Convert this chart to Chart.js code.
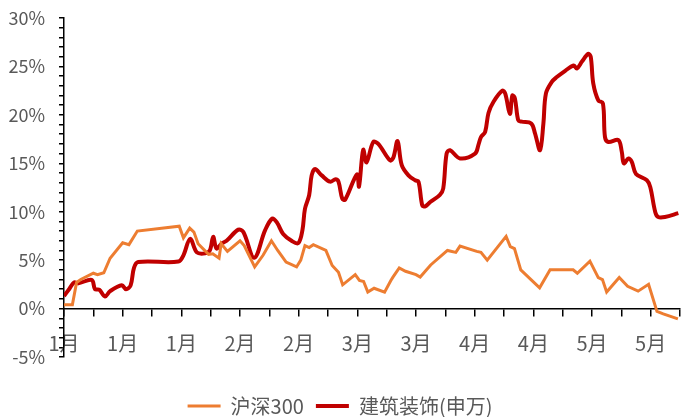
<!DOCTYPE html>
<html>
<head>
<meta charset="utf-8">
<script src="https://cdn.jsdelivr.net/npm/chart.js@4/dist/chart.umd.min.js"></script>
<style>
  html, body { margin: 0; padding: 0; background: #fff; }
</style>
</head>
<body>
<canvas id="chart" width="681" height="417"></canvas>
<script>
// x = days since 3 Jan, y = cumulative return in %
const hsDays = [0, 2, 3, 4, 7, 8, 9.5, 11, 14, 15.5, 17.5, 27.5, 28.5, 30, 31, 32, 34.5, 35.5, 37, 37.5, 39, 42, 43, 45.5, 47.5, 49.5, 51, 53, 55.5, 56.5, 57.5, 58.5, 59.5, 62.5, 64, 65.5, 66.5, 69.5, 70.5, 71.5, 72.5, 74, 76.5, 78, 78.5, 80, 81.5, 84, 85, 86, 87.5, 91.5, 93.5, 94.5, 98.5, 99.5, 101, 105.5, 106.5, 107.5, 109, 113.5, 116, 121.5, 122.5, 125.5, 127.5, 128.5, 129.5, 132.5, 134.5, 137, 139.5, 141.5, 143, 146.5];
const hsValues = [0.4, 0.4, 2.7, 3.0, 3.65, 3.5, 3.7, 5.2, 6.8, 6.6, 8.0, 8.5, 7.3, 8.3, 7.9, 6.7, 5.6, 5.65, 5.2, 6.7, 5.9, 7.0, 6.5, 4.3, 5.5, 7.0, 6.0, 4.8, 4.3, 5.0, 6.5, 6.3, 6.6, 6.0, 4.45, 3.75, 2.45, 3.5, 2.9, 2.8, 1.7, 2.1, 1.7, 2.9, 3.25, 4.2, 3.85, 3.5, 3.25, 3.75, 4.5, 6.0, 5.8, 6.45, 5.9, 5.8, 5.0, 7.45, 6.4, 6.2, 4.0, 2.15, 4.0, 4.0, 3.65, 4.9, 3.2, 3.0, 1.7, 3.2, 2.3, 1.8, 2.5, -0.3, -0.55, -1.07];

const jzDays = [0, 1.3, 2.4, 3.4, 6.6, 7.4, 8.4, 9.8, 11, 13.8, 14.8, 15.9, 16.7, 17.7, 27.3, 28.5, 30.1, 31.7, 33.7, 34.8, 35.6, 36.4, 37.6, 38.8, 41.6, 42.8, 45.4, 48, 49.7, 50.8, 52.3, 54.3, 55.9, 56.9, 57.5, 58.5, 59.1, 59.9, 61.5, 63.5, 64.8, 65.5, 66.4, 67.1, 69.9, 70.4, 71.4, 72.2, 73.8, 75, 77.8, 78.6, 79.6, 80.6, 82.2, 83.8, 84.6, 85.5, 86.2, 87.4, 89.7, 90.5, 91.3, 92.1, 94.5, 98.1, 98.9, 99.5, 100.5, 101.3, 102.5, 104.6, 105.3, 106.4, 107, 107.6, 108.4, 109.2, 111.5, 112.4, 113.6, 114.4, 115, 116.4, 117.6, 119.6, 121.6, 122.4, 123.6, 125.1, 125.7, 126.3, 127.5, 128.6, 129.1, 129.9, 132.3, 133.1, 133.6, 134.7, 135.5, 136.5, 139.1, 139.9, 141.1, 141.8, 143.4, 146.6];
const jzValues = [1.3, 2.05, 2.7, 2.6, 2.95, 2.0, 1.95, 1.25, 1.8, 2.4, 2.0, 2.4, 4.2, 4.8, 4.85, 5.5, 7.2, 5.8, 5.7, 6.0, 7.4, 6.2, 6.7, 7.0, 8.15, 7.9, 5.25, 8.1, 9.3, 8.9, 7.7, 7.0, 6.75, 8.1, 10.3, 11.7, 13.75, 14.4, 13.75, 13.1, 13.35, 13.1, 11.35, 11.25, 13.85, 12.6, 16.4, 15.1, 17.2, 17.0, 15.3, 15.6, 17.3, 14.8, 13.75, 13.25, 13.1, 10.65, 10.55, 11.0, 11.75, 12.4, 16.0, 16.35, 15.5, 16.0, 16.9, 17.7, 18.25, 20.2, 21.35, 22.5, 22.2, 20.1, 22.0, 21.7, 19.45, 19.3, 19.1, 18.1, 16.35, 19.1, 22.2, 23.4, 23.9, 24.55, 25.1, 24.8, 25.5, 26.3, 26.0, 23.25, 21.5, 21.2, 17.7, 17.2, 17.4, 16.2, 15.0, 15.5, 15.15, 13.9, 13.25, 12.55, 9.95, 9.45, 9.45, 9.85];

// one tick per week, label every other week
const weekLabels = ["1月", "", "1月", "", "1月", "", "2月", "", "2月", "", "3月", "", "3月", "", "4月", "", "4月", "", "5月", "", "5月", ""];

const FONT = "'Noto Sans CJK SC', 'Open Sans', sans-serif";
const GREY = "#595959";

const toPoints = (xs, ys) => xs.map((x, i) => ({ x: x, y: ys[i] }));

new Chart(document.getElementById("chart"), {
  type: "line",
  data: {
    datasets: [
      {
        label: "沪深300",
        data: toPoints(hsDays, hsValues),
        borderColor: "#ED7D31",
        backgroundColor: "#ED7D31",
        borderWidth: 3,
        pointRadius: 0,
        tension: 0,
      },
      {
        label: "建筑装饰(申万)",
        data: toPoints(jzDays, jzValues),
        borderColor: "#C00000",
        backgroundColor: "#C00000",
        borderWidth: 4,
        pointRadius: 0,
        tension: 0.35,
      },
    ],
  },
  options: {
    responsive: false,
    animation: false,
    layout: { padding: { top: 18, right: 1, bottom: -9, left: 0 } },
    scales: {
      x: {
        type: "linear",
        position: { y: 0 },
        min: 0,
        max: 147,
        afterFit: (scale) => { scale.paddingRight = 0; scale.paddingLeft = 0; },
        border: { color: "#000", width: 1.5 },
        grid: { drawOnChartArea: false, color: "#000", tickLength: 7, lineWidth: 1.5 },
        ticks: {
          stepSize: 7,
          autoSkip: false,
          maxRotation: 0,
          padding: 16,
          color: GREY,
          font: { family: FONT, size: 20 },
          callback: (v) => weekLabels[Math.round(v / 7)] || "",
        },
      },
      // empty strip that keeps the plot clear of the legend
      gap: {
        type: "linear",
        axis: "x",
        position: "bottom",
        afterFit: (scale) => { scale.height = 27; },
        border: { display: false },
        grid: { display: false },
        ticks: { display: false },
      },
      y: {
        min: -5,
        max: 30,
        afterFit: (scale) => { scale.width = 64; scale.paddingTop = 0; scale.paddingBottom = 0; },
        border: { color: "#000", width: 1.5 },
        grid: { drawOnChartArea: false, color: "#000", tickLength: 5, lineWidth: 1.5 },
        ticks: {
          stepSize: 1,
          autoSkip: false,
          padding: 14,
          color: GREY,
          font: { family: FONT, size: 18 },
          callback: (v) => (v % 5 === 0 ? v + "%" : ""),
        },
      },
    },
    plugins: {
      legend: {
        position: "bottom",
        labels: {
          usePointStyle: true,
          pointStyle: "line",
          pointStyleWidth: 33,
          padding: 12,
          color: GREY,
          font: { family: FONT, size: 20 },
        },
      },
      tooltip: { enabled: false },
    },
  },
});
</script>
</body>
</html>
